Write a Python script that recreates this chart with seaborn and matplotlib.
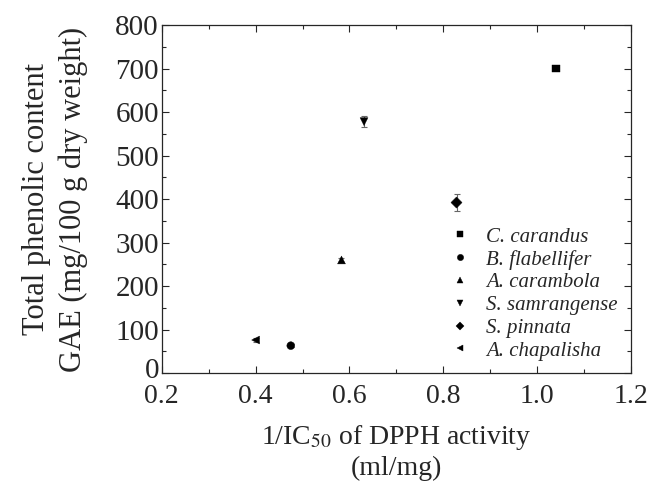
import pandas as pd
import seaborn as sns
import matplotlib.pyplot as plt
import matplotlib.transforms as mtransforms
from matplotlib.ticker import MultipleLocator

# datos
especies = ["C. carandus", "B. flabellifer", "A. carambola",
            "S. samrangense", "S. pinnata", "A. chapalisha"]
dpph = [1.04, 0.475, 0.583, 0.631, 0.828, 0.400]
fenoles = [700, 63, 260, 578, 392, 76]
error = [4, 4, 5, 13, 20, 4]
marcadores = ["s", "o", "^", "v", "D", "<"]

df = pd.DataFrame({"especie": especies, "x": dpph, "y": fenoles, "err": error})

sns.set_style("ticks")
plt.rcParams["font.family"] = ["Liberation Serif", "STIXGeneral", "DejaVu Serif"]
plt.rcParams["mathtext.fontset"] = "stix"

fig = plt.figure(figsize=(6.52, 4.82), dpi=100)
ax = fig.add_axes([0.248, 0.226, 0.72, 0.722])

ax.errorbar(df["x"], df["y"], yerr=df["err"], fmt="none", ecolor="0.4",
            elinewidth=0.8, capsize=2, capthick=0.8, zorder=1)
sns.scatterplot(data=df, x="x", y="y", style="especie", markers=dict(zip(especies, marcadores)),
                color="black", s=32, edgecolor="black", linewidth=0.3, ax=ax, zorder=2)

ax.set_xlim(0.2, 1.2)
ax.set_ylim(0, 800)
ax.xaxis.set_major_locator(MultipleLocator(0.2))
ax.xaxis.set_minor_locator(MultipleLocator(0.1))
ax.yaxis.set_major_locator(MultipleLocator(100))
ax.yaxis.set_minor_locator(MultipleLocator(50))
ax.xaxis.set_major_formatter(plt.FuncFormatter(lambda v, p: f"{v:.1f}"))
ax.tick_params(which="both", direction="in", top=True, right=True, width=0.8)
ax.tick_params(axis="x", labelsize=20, pad=8)
ax.tick_params(axis="y", labelsize=21, pad=2)
ax.tick_params(which="major", length=5)
ax.tick_params(which="minor", length=3)
for s in ax.spines.values():
    s.set_linewidth(0.9)

ax.set_xlabel(r"1/IC$_{50}$ of DPPH activity" + "\n(ml/mg)", fontsize=20, labelpad=10)
ax.set_ylabel("Total phenolic content\nGAE (mg/100 g dry weight)", fontsize=22,
              linespacing=1.3, labelpad=20)

leg = ax.legend(loc="lower right", frameon=False, handlelength=1.5, handletextpad=0.5,
                labelspacing=0.15, markerscale=0.8, borderaxespad=0.2,
                bbox_to_anchor=(0.997, 0.0),
                prop={"style": "italic", "size": 15})

# subir un poco el "0" del eje y para que no pise el "0.2"
fig.canvas.draw()
for t in ax.yaxis.get_major_ticks():
    if abs(t.get_loc()) < 1e-9:
        t.label1.set_transform(t.label1.get_transform()
                               + mtransforms.ScaledTranslation(0, 4 / 72, fig.dpi_scale_trans))

fig.savefig("out.png", dpi=100)
